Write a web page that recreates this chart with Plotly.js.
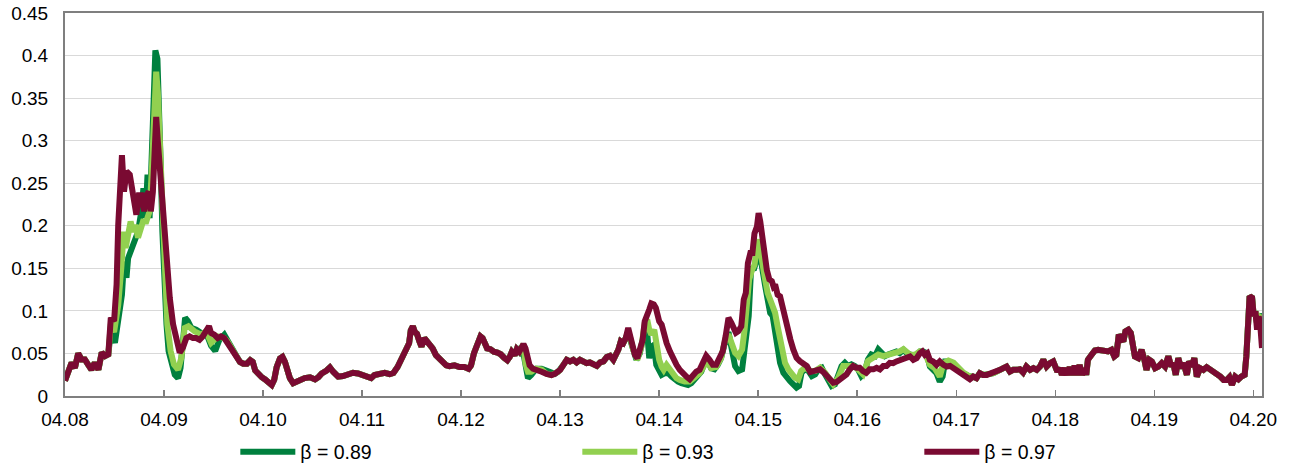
<!DOCTYPE html>
<html>
<head>
<meta charset="utf-8">
<script src="https://cdn.plot.ly/plotly-3.0.1.min.js"></script>
<style>html,body{margin:0;padding:0;background:#fff}#chart{width:1293px;height:468px}</style>
</head>
<body>
<div id="chart"></div>
<script>
// x values are hours since 04.08 00:00
const tickHours = [0,24,48,72,96,120,144,168,192,216,240,264,288];
const tickLabels = ['04.08','04.09','04.10','04.11','04.12','04.13','04.14','04.15','04.16','04.17','04.18','04.19','04.20'];
const seriesNames = ['β = 0.89','β = 0.93','β = 0.97'];

const hours97 = [0,0.8,1.6,2.4,3.2,4.0,4.8,5.6,6.4,7.2,8.1,8.9,9.7,10.5,11.1,11.9,12.5,12.9,13.4,13.8,14.3,14.9,15.7,16.5,17.3,17.9,18.5,19.2,19.7,20.3,20.8,21.3,21.7,22.1,22.5,23.2,23.8,24.6,25.4,26.2,27.0,27.8,28.6,29.4,30.2,31.0,31.8,32.6,33.4,34.2,34.9,35.4,36.2,37.0,37.8,38.6,39.4,40.3,
40.8,41.6,42.4,43.2,44.1,44.9,45.5,46.1,46.9,47.7,48.5,49.3,50.1,50.7,51.3,52.1,52.7,53.3,53.9,54.5,55.3,56.1,56.9,58.1,59.4,60.6,61.4,62.2,63.4,64.2,65.0,66.2,67.4,68.6,69.8,71.0,72.2,73.4,74.2,75.0,76.3,77.5,78.7,79.6,
80.6,81.4,82.2,82.9,83.4,83.8,84.3,84.8,85.3,85.9,86.4,87.1,87.7,88.3,89.1,89.9,90.7,91.5,92.4,93.2,94.4,95.6,96.8,97.8,98.4,99.1,99.6,100.2,100.7,101.2,101.7,102.3,103.1,103.9,104.8,105.6,106.4,107.2,107.8,108.3,109.0,109.5,110.1,110.6,111.1,111.6,112.1,112.6,113.4,114.2,115.5,116.7,117.9,118.7,119.5,
120.0,120.8,121.6,122.4,123.2,124.0,124.8,125.6,126.4,127.2,128.1,128.9,129.7,130.5,131.3,132.1,132.9,133.5,134.1,134.7,135.3,135.9,136.5,137.1,137.5,138.1,138.7,139.3,140.0,140.5,141.1,141.6,142.1,142.7,143.2,143.5,144.0,144.6,145.1,145.8,146.6,147.4,148.2,149.0,149.8,150.6,151.4,152.2,153.0,153.8,154.6,155.4,156.2,157.0,157.8,158.6,159.4,
160.1,160.8,161.5,162.0,162.6,163.2,163.9,164.5,165.0,165.5,166.1,166.6,167.1,167.7,168.1,168.5,168.9,169.5,170.1,170.7,171.3,171.7,172.1,172.7,173.3,173.9,174.5,175.2,175.8,176.5,177.3,178.1,178.9,179.8,180.6,181.4,182.2,183.0,183.8,184.6,185.4,186.2,187.0,187.8,188.6,189.4,190.2,191.0,191.8,192.6,193.4,194.2,195.0,195.9,196.7,197.5,198.3,199.1,199.9,
200.7,201.5,202.3,203.2,204.0,204.8,205.6,206.4,207.2,207.8,208.4,209.0,209.6,210.4,211.2,212.0,212.9,213.7,214.5,215.3,216.1,216.9,217.7,218.5,219.3,220.1,220.9,221.7,222.5,223.4,224.2,225.0,225.8,226.6,227.4,228.2,229.0,229.8,230.6,231.4,232.2,233.0,233.9,234.7,235.5,236.3,237.1,237.9,238.7,239.5,
240.5,241.1,241.6,242.3,242.9,243.5,244.1,244.7,245.4,245.9,246.5,247.1,247.5,247.9,248.8,249.6,250.4,251.2,252.0,252.8,253.6,254.3,254.8,255.4,255.9,256.5,257.0,257.7,258.3,258.9,259.3,260.1,260.9,261.6,262.1,262.8,263.4,264.2,265.0,265.8,266.6,267.4,268.1,268.6,269.2,269.8,270.5,271.1,271.9,272.4,273.1,273.7,274.3,275.1,275.9,276.7,277.5,278.4,279.2,280.0,280.8,281.6,282.2,282.8,283.6,284.4,285.1,285.9,286.3,286.6,287.1,287.7,288.1,288.5,288.9,289.3,289.7,290.1];
const beta97 = [0.018,0.029,0.039,0.033,0.050,0.043,0.043,0.037,0.031,0.039,0.031,0.051,0.047,0.049,0.092,0.088,0.131,0.201,0.252,0.283,0.240,0.264,0.260,0.236,0.213,0.236,0.236,0.217,0.236,0.240,0.217,0.240,0.307,0.328,0.299,0.252,0.201,0.162,0.115,0.084,0.064,0.051,0.057,0.068,0.070,0.068,0.068,0.066,0.070,0.076,0.082,0.074,0.072,0.068,0.070,0.068,0.062,0.056,
0.053,0.048,0.040,0.038,0.038,0.042,0.040,0.030,0.025,0.022,0.0195,0.0156,0.013,0.019,0.034,0.044,0.046,0.040,0.0285,0.021,0.015,0.017,0.0195,0.021,0.022,0.0195,0.022,0.0265,0.030,0.0336,0.0285,0.0227,0.0234,0.0258,0.0273,0.0265,0.0246,0.0234,0.021,0.0246,0.0258,0.0273,0.0258,0.027,
0.034,0.042,0.050,0.054,0.062,0.077,0.082,0.075,0.073,0.064,0.058,0.068,0.064,0.062,0.056,0.048,0.044,0.040,0.036,0.035,0.036,0.034,0.034,0.032,0.036,0.050,0.058,0.062,0.070,0.068,0.060,0.056,0.055,0.052,0.051,0.049,0.045,0.042,0.046,0.052,0.048,0.055,0.052,0.058,0.061,0.056,0.044,0.036,0.032,0.030,0.0285,0.026,0.0246,0.026,0.0285,
0.0307,0.0366,0.0425,0.0406,0.0425,0.0394,0.0425,0.0406,0.0386,0.0394,0.0366,0.0354,0.0394,0.0406,0.0457,0.0472,0.0425,0.0484,0.0543,0.0642,0.0622,0.0681,0.080,0.0681,0.0563,0.0484,0.0445,0.0563,0.066,0.0878,0.0937,0.1016,0.1087,0.1075,0.1035,0.0957,0.0878,0.0839,0.072,0.0622,0.0524,0.0433,0.0366,0.0307,0.0256,0.0228,0.0197,0.0248,0.0287,0.0307,0.0386,0.0472,0.0425,0.0366,0.0366,0.0445,0.0524,
0.070,0.0918,0.0859,0.078,0.0742,0.0762,0.082,0.1133,0.121,0.156,0.168,0.168,0.191,0.199,0.215,0.205,0.191,0.164,0.148,0.137,0.135,0.129,0.131,0.119,0.117,0.105,0.090,0.078,0.0664,0.0547,0.0449,0.041,0.039,0.0352,0.0281,0.0293,0.0313,0.0313,0.0281,0.0234,0.0195,0.0156,0.0164,0.0195,0.0234,0.0254,0.0313,0.0352,0.0332,0.0332,0.0293,0.0273,0.0313,0.0313,0.0332,0.0313,0.0352,0.0352,0.039,
0.0386,0.0406,0.0425,0.0445,0.0457,0.0465,0.0425,0.0445,0.0504,0.0524,0.0484,0.0504,0.0425,0.0406,0.0366,0.0406,0.0366,0.0346,0.0354,0.0327,0.0307,0.0268,0.0248,0.0209,0.0197,0.0228,0.0209,0.0268,0.0248,0.0248,0.026,0.0268,0.0287,0.0307,0.0327,0.0346,0.0287,0.0307,0.0307,0.0315,0.0276,0.0346,0.0307,0.0327,0.0307,0.0346,0.0425,0.0346,0.0386,0.0406,
0.0287,0.0327,0.0248,0.0327,0.0248,0.0339,0.0248,0.0354,0.0248,0.0366,0.0248,0.0327,0.0248,0.0425,0.0484,0.0535,0.0543,0.0535,0.0543,0.0524,0.0543,0.0465,0.0484,0.072,0.0681,0.0642,0.076,0.078,0.074,0.0602,0.0465,0.0445,0.0543,0.0425,0.0307,0.0425,0.0406,0.0327,0.0346,0.0386,0.0346,0.0465,0.0346,0.0386,0.0248,0.0445,0.0327,0.0386,0.0248,0.0406,0.0346,0.0445,0.0228,0.0327,0.0307,0.0339,0.0315,0.0287,0.026,0.0228,0.0189,0.0189,0.022,0.013,0.0228,0.0197,0.0228,0.0248,0.0465,0.0898,0.1173,0.1154,0.0937,0.0996,0.078,0.0937,0.0819,0.0563];

const hours93 = [0,0.8,1.6,2.4,3.2,4.0,4.8,5.6,6.4,7.2,8.1,8.9,9.7,10.5,11.1,11.9,12.9,13.7,14.2,14.7,15.3,15.9,16.5,17.1,17.7,18.4,18.9,19.7,20.5,21.1,21.6,22.1,22.5,23.0,23.5,24.2,24.8,25.6,26.4,27.4,28.2,29.0,29.9,31.4,33.0,34.2,35.4,37.0,38.6,39.4,40.3,
40.8,41.6,42.4,43.2,44.1,44.9,45.5,46.1,46.9,47.7,48.5,49.3,50.1,50.7,51.3,52.1,52.7,53.3,53.9,54.5,55.3,56.1,56.9,58.1,59.4,60.6,61.4,62.2,63.4,64.2,65.0,66.2,67.4,68.6,69.8,71.0,72.2,73.4,74.2,75.0,76.3,77.5,78.7,79.6,
80.6,81.4,82.2,82.9,83.4,83.8,84.3,84.8,85.3,85.9,86.4,87.1,87.7,88.3,89.1,89.9,90.7,91.5,92.4,93.2,94.4,95.6,96.8,97.8,98.4,99.1,99.6,100.2,100.7,101.2,101.7,102.3,103.1,103.9,104.8,105.6,106.4,107.2,107.8,108.3,109.0,109.5,110.1,110.6,111.1,111.6,112.2,113.0,114.2,115.5,116.7,117.9,118.7,119.5,
120.0,120.8,121.6,122.4,123.2,124.0,124.8,125.6,126.4,127.2,128.1,128.9,129.7,130.5,131.3,132.1,132.9,133.5,134.1,134.7,135.3,135.9,136.5,137.1,137.7,138.7,139.7,140.5,141.1,141.6,142.1,142.8,143.3,144.0,144.6,145.1,145.8,146.6,147.4,148.2,149.0,150.2,151.4,152.6,153.8,155.0,155.8,156.6,157.8,159.0,
160.1,160.8,161.6,162.4,163.2,164.1,164.7,165.3,165.8,166.5,167.1,167.7,168.1,168.6,169.0,169.7,170.3,170.9,171.5,172.1,172.7,173.3,173.9,174.5,175.3,176.1,176.9,177.7,178.4,179.3,180.6,181.8,183.0,184.2,185.4,186.2,187.4,188.6,189.8,191.0,192.2,193.4,194.6,195.9,197.1,198.3,199.5,
200.7,201.5,202.3,203.2,204.0,204.8,206.0,207.2,208.4,209.6,210.8,212.0,212.9,214.1,215.3,216.5,217.7,219.3,220.1,220.9,221.7,222.5,223.4,224.2,225.0,225.8,226.6,227.4,228.2,229.0,229.8,230.6,231.4,232.2,233.0,233.9,234.7,235.5,236.3,237.1,237.9,238.7,239.5,
240.5,241.1,241.6,242.3,242.9,243.5,244.1,244.7,245.4,245.9,246.5,247.1,247.5,247.9,248.8,249.6,250.4,251.2,252.0,252.8,253.6,254.3,254.8,255.4,255.9,256.5,257.0,257.7,258.3,258.9,259.3,260.1,260.9,261.6,262.1,262.8,263.4,264.2,265.0,265.8,266.6,267.4,268.1,268.6,269.2,269.8,270.5,271.1,271.9,272.4,273.1,273.7,274.3,275.1,275.9,276.7,277.5,278.4,279.2,280.0,280.8,281.6,282.2,282.8,283.6,284.4,285.1,285.9,286.3,286.6,287.1,287.7,288.1,288.5,288.9,289.3,289.7,290.1];
const beta93 = [0.018,0.029,0.039,0.033,0.050,0.043,0.043,0.037,0.031,0.039,0.031,0.051,0.047,0.049,0.085,0.075,0.107,0.154,0.193,0.174,0.186,0.205,0.193,0.201,0.186,0.201,0.205,0.205,0.217,0.271,0.349,0.381,0.357,0.291,0.209,0.135,0.084,0.053,0.037,0.031,0.045,0.080,0.082,0.076,0.072,0.076,0.0625,0.070,0.068,0.064,0.056,
0.053,0.048,0.040,0.038,0.038,0.042,0.040,0.030,0.025,0.022,0.0195,0.0156,0.013,0.019,0.034,0.044,0.046,0.040,0.0285,0.021,0.015,0.017,0.0195,0.021,0.022,0.0195,0.022,0.0265,0.030,0.0336,0.0285,0.0227,0.0234,0.0258,0.0273,0.0265,0.0246,0.0234,0.021,0.0246,0.0258,0.0273,0.0258,0.027,
0.034,0.042,0.050,0.054,0.062,0.077,0.082,0.075,0.073,0.064,0.058,0.068,0.064,0.062,0.056,0.048,0.044,0.040,0.036,0.035,0.036,0.034,0.034,0.032,0.036,0.050,0.058,0.062,0.070,0.068,0.060,0.056,0.055,0.052,0.051,0.049,0.045,0.042,0.046,0.052,0.048,0.055,0.052,0.058,0.061,0.038,0.0285,0.0285,0.032,0.031,0.026,0.0246,0.026,0.0285,
0.0307,0.0366,0.0425,0.0406,0.0425,0.0394,0.0425,0.0406,0.0386,0.0394,0.0366,0.0354,0.0394,0.0406,0.0457,0.0472,0.0425,0.0484,0.0543,0.0642,0.0622,0.0681,0.076,0.066,0.0543,0.0425,0.058,0.0858,0.0898,0.078,0.072,0.078,0.058,0.0425,0.0346,0.0307,0.0366,0.0307,0.0248,0.0209,0.0189,0.0169,0.0169,0.0209,0.0268,0.0366,0.0394,0.0327,0.0339,0.0445,
0.068,0.0723,0.0625,0.0508,0.0469,0.0547,0.078,0.1055,0.1367,0.148,0.154,0.176,0.184,0.168,0.152,0.1367,0.121,0.113,0.107,0.0977,0.082,0.0664,0.0508,0.039,0.0313,0.0254,0.0215,0.0195,0.0293,0.0332,0.0293,0.0293,0.0332,0.0273,0.0176,0.0137,0.0215,0.0352,0.0352,0.0352,0.0313,0.0254,0.041,0.0449,0.0488,0.0469,0.0488,
0.0508,0.0504,0.0524,0.0551,0.0504,0.0484,0.0484,0.0524,0.0504,0.0366,0.0327,0.0228,0.0386,0.0417,0.0394,0.0327,0.0276,0.0228,0.0228,0.0209,0.0268,0.0248,0.0248,0.026,0.0268,0.0287,0.0307,0.0327,0.0346,0.0287,0.0307,0.0307,0.0315,0.0276,0.0346,0.0307,0.0327,0.0307,0.0346,0.0425,0.0346,0.0386,0.0406,
0.0287,0.0327,0.0248,0.0327,0.0248,0.0339,0.0248,0.0354,0.0248,0.0366,0.0248,0.0327,0.0248,0.0425,0.0484,0.0535,0.0543,0.0535,0.0543,0.0524,0.0543,0.0465,0.0484,0.072,0.0681,0.0642,0.076,0.078,0.074,0.0602,0.0465,0.0445,0.0543,0.0425,0.0307,0.0425,0.0406,0.0327,0.0346,0.0386,0.0346,0.0465,0.0346,0.0386,0.0248,0.0445,0.0327,0.0386,0.0248,0.0406,0.0346,0.0445,0.0228,0.0327,0.0307,0.0339,0.0315,0.0287,0.026,0.0228,0.0189,0.0189,0.022,0.013,0.0228,0.0197,0.0228,0.0248,0.0465,0.0898,0.1173,0.1154,0.0937,0.0996,0.085,0.094,0.093,0.091];

const hours89 = [0,0.8,1.6,2.4,3.2,4.0,4.8,5.6,6.4,7.2,8.1,8.9,9.7,10.5,11.1,12.1,12.7,13.3,13.8,14.3,14.9,15.3,15.9,16.5,17.1,17.7,18.5,19.0,19.5,20.0,20.5,21.1,21.6,21.9,22.4,22.8,23.2,23.6,24.0,24.6,25.1,25.8,26.6,27.4,28.0,28.6,29.1,29.8,30.6,31.8,33.0,34.2,35.4,36.4,37.4,38.6,39.8,
40.8,41.6,42.4,43.2,44.1,44.9,45.5,46.1,46.9,47.7,48.5,49.3,50.1,50.7,51.3,52.1,52.7,53.3,53.9,54.5,55.3,56.1,56.9,58.1,59.4,60.6,61.4,62.2,63.4,64.2,65.0,66.2,67.4,68.6,69.8,71.0,72.2,73.4,74.2,75.0,76.3,77.5,78.7,79.6,
80.6,81.4,82.2,82.9,83.4,83.8,84.3,84.8,85.3,85.9,86.4,87.1,87.7,88.3,89.1,89.9,90.7,91.5,92.4,93.2,94.4,95.6,96.8,97.8,98.4,99.1,99.6,100.2,100.7,101.2,101.7,102.3,103.1,103.9,104.8,105.6,106.4,107.2,107.8,108.3,109.0,109.5,110.1,110.6,111.1,111.6,112.2,113.0,114.2,115.5,116.7,117.9,118.7,119.5,
120.0,120.8,121.6,122.4,123.2,124.0,124.8,125.6,126.4,127.2,128.1,128.9,129.7,130.5,131.3,132.1,132.9,133.5,134.1,134.7,135.3,135.9,136.5,137.1,137.7,138.5,139.3,140.1,140.8,141.2,141.6,142.1,142.7,143.3,144.0,144.6,145.4,146.2,147.0,147.8,148.6,149.4,150.2,151.0,151.8,152.6,153.4,154.2,155.0,155.8,156.6,157.4,158.2,159.0,159.8,
160.8,161.6,162.4,163.2,164.1,164.7,165.3,165.7,166.3,166.9,167.4,168.0,168.5,169.0,169.7,170.3,170.9,171.5,172.1,172.7,173.3,174.1,174.9,175.7,176.5,177.3,177.9,178.5,179.3,180.2,181.0,181.8,182.6,183.4,184.2,185.0,185.8,186.6,187.4,188.2,189.0,189.8,190.6,191.4,192.2,193.0,193.8,194.6,195.4,196.3,197.1,197.9,198.7,199.5,200.3,
201.5,202.3,203.2,204.0,204.8,205.6,206.4,207.2,208.0,208.8,209.6,210.4,211.2,212.0,212.7,213.3,214.1,215.3,216.1,216.9,217.7,219.3,220.1,220.9,221.7,222.5,223.4,224.2,225.0,225.8,226.6,227.4,228.2,229.0,229.8,230.6,231.4,232.2,233.0,233.9,234.7,235.5,236.3,237.1,237.9,238.7,239.5,
240.5,241.1,241.6,242.3,242.9,243.5,244.1,244.7,245.4,245.9,246.5,247.1,247.5,247.9,248.8,249.6,250.4,251.2,252.0,252.8,253.6,254.3,254.8,255.4,255.9,256.5,257.0,257.7,258.3,258.9,259.3,260.1,260.9,261.6,262.1,262.8,263.4,264.2,265.0,265.8,266.6,267.4,268.1,268.6,269.2,269.8,270.5,271.1,271.9,272.4,273.1,273.7,274.3,275.1,275.9,276.7,277.5,278.4,279.2,280.0,280.8,281.6,282.2,282.8,283.6,284.4,285.1,285.9,286.3,286.6,287.1,287.7,288.1,288.5,288.9,289.3,289.7,290.1];
const beta89 = [0.018,0.029,0.039,0.033,0.050,0.043,0.043,0.037,0.031,0.039,0.031,0.051,0.047,0.049,0.076,0.0625,0.084,0.096,0.119,0.158,0.139,0.162,0.170,0.178,0.186,0.193,0.217,0.244,0.209,0.260,0.209,0.291,0.369,0.406,0.396,0.349,0.271,0.193,0.131,0.084,0.053,0.037,0.025,0.021,0.033,0.064,0.092,0.088,0.080,0.078,0.074,0.074,0.059,0.053,0.066,0.072,0.0625,
0.053,0.048,0.040,0.038,0.038,0.042,0.040,0.030,0.025,0.022,0.0195,0.0156,0.013,0.019,0.034,0.044,0.046,0.040,0.0285,0.021,0.015,0.017,0.0195,0.021,0.022,0.0195,0.022,0.0265,0.030,0.0336,0.0285,0.0227,0.0234,0.0258,0.0273,0.0265,0.0246,0.0234,0.021,0.0246,0.0258,0.0273,0.0258,0.027,
0.034,0.042,0.050,0.054,0.062,0.077,0.082,0.075,0.073,0.064,0.058,0.068,0.064,0.062,0.056,0.048,0.044,0.040,0.036,0.035,0.036,0.034,0.034,0.032,0.036,0.050,0.058,0.062,0.070,0.068,0.060,0.056,0.055,0.052,0.051,0.049,0.045,0.042,0.046,0.052,0.048,0.055,0.052,0.058,0.050,0.034,0.021,0.0246,0.032,0.032,0.030,0.0273,0.026,0.0285,
0.0307,0.0366,0.0425,0.0406,0.0425,0.0394,0.0425,0.0406,0.0386,0.0394,0.0366,0.0354,0.0394,0.0406,0.0457,0.0472,0.0425,0.0484,0.0543,0.0642,0.0622,0.0681,0.074,0.064,0.052,0.0425,0.050,0.068,0.0839,0.068,0.0445,0.058,0.060,0.0366,0.0287,0.0248,0.0268,0.0268,0.0228,0.0189,0.0169,0.015,0.0142,0.013,0.015,0.0189,0.0236,0.0287,0.0386,0.0406,0.0327,0.0315,0.0366,0.0445,0.060,
0.075,0.0547,0.0352,0.0293,0.0313,0.0547,0.078,0.094,0.152,0.148,0.156,0.180,0.164,0.1445,0.129,0.113,0.0977,0.094,0.078,0.0547,0.039,0.0273,0.0215,0.0176,0.0137,0.0098,0.0117,0.0273,0.0313,0.0293,0.0234,0.0254,0.0313,0.0332,0.0254,0.0176,0.0117,0.0137,0.0234,0.0352,0.039,0.0352,0.0371,0.0352,0.0313,0.0234,0.0273,0.043,0.0488,0.0469,0.0547,0.0508,0.0469,0.0488,0.0508,
0.0524,0.0504,0.0543,0.0504,0.0484,0.0472,0.0484,0.0524,0.0524,0.0504,0.0346,0.0307,0.0268,0.0169,0.0228,0.0406,0.0406,0.0386,0.0346,0.0307,0.0268,0.0228,0.0228,0.0209,0.0268,0.0248,0.0248,0.026,0.0268,0.0287,0.0307,0.0327,0.0346,0.0287,0.0307,0.0307,0.0315,0.0276,0.0346,0.0307,0.0327,0.0307,0.0346,0.0425,0.0346,0.0386,0.0406,
0.0287,0.0327,0.0248,0.0327,0.0248,0.0339,0.0248,0.0354,0.0248,0.0366,0.0248,0.0327,0.0248,0.0425,0.0484,0.0535,0.0543,0.0535,0.0543,0.0524,0.0543,0.0465,0.0484,0.072,0.0681,0.0642,0.076,0.078,0.074,0.0602,0.0465,0.0445,0.0543,0.0425,0.0307,0.0425,0.0406,0.0327,0.0346,0.0386,0.0346,0.0465,0.0346,0.0386,0.0248,0.0445,0.0327,0.0386,0.0248,0.0406,0.0346,0.0445,0.0228,0.0327,0.0307,0.0339,0.0315,0.0287,0.026,0.0228,0.0189,0.0189,0.022,0.013,0.0228,0.0197,0.0228,0.0248,0.0465,0.0898,0.1173,0.1154,0.0937,0.0996,0.085,0.094,0.094,0.092];

const colors = ['#00803E','#92D050','#7A0A32'];

const traces = [
  {x: hours89, y: beta89, name: seriesNames[0]},
  {x: hours93, y: beta93, name: seriesNames[1]},
  {x: hours97, y: beta97, name: seriesNames[2]}
].map((t, i) => Object.assign(t, {
  type: 'scatter', mode: 'lines',
  line: {color: colors[i], width: 6, shape: 'linear'},
  hoverinfo: 'skip'
}));

const layout = {
  width: 1293, height: 468,
  margin: {l: 65, r: 31, t: 13, b: 72},
  paper_bgcolor: '#ffffff', plot_bgcolor: '#ffffff',
  font: {family: '"Liberation Sans", Arial, sans-serif', size: 19, color: '#000000'},
  showlegend: true,
  xaxis: {
    range: [0, 290.1], tickmode: 'array', tickvals: tickHours, ticktext: tickLabels,
    ticks: 'inside', ticklen: 6, tickwidth: 1.5, tickcolor: '#7F7F7F',
    showline: true, linecolor: '#7F7F7F', linewidth: 2, mirror: true,
    showgrid: false, zeroline: false, ticklabelstandoff: 5
  },
  yaxis: {
    range: [0, 0.45], tick0: 0, dtick: 0.05, ticks: '',
    showgrid: true, gridcolor: '#D9D9D9', gridwidth: 1,
    showline: true, linecolor: '#7F7F7F', linewidth: 2, mirror: true,
    zeroline: false, ticklabelstandoff: 11
  },
  legend: {
    orientation: 'h', xref: 'container', yref: 'container',
    x: 0.182, y: 0.034, xanchor: 'left', yanchor: 'middle',
    entrywidth: 272, entrywidthmode: 'pixels', itemwidth: 55,
    font: {size: 19.5}, bgcolor: 'rgba(0,0,0,0)'
  }
};

Plotly.newPlot('chart', traces, layout, {displayModeBar: false, staticPlot: true});
</script>
</body>
</html>
